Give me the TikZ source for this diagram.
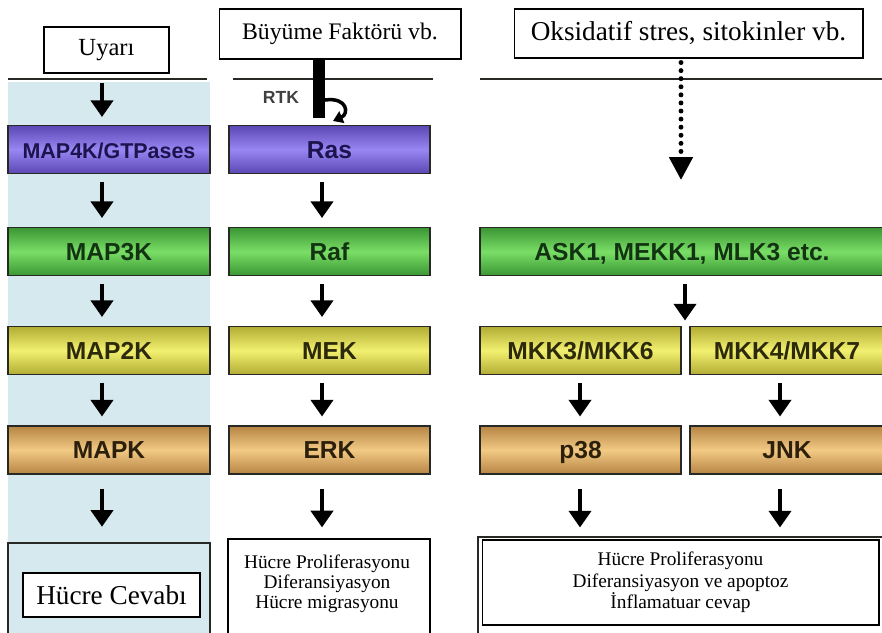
\documentclass[tikz,border=0pt]{standalone}
\usepackage{fontspec}
\setmainfont{Liberation Serif}
\setsansfont{Liberation Sans}
\usepackage{tikz}
\usetikzlibrary{arrows.meta,positioning,calc}

\definecolor{bgblue}{RGB}{214,233,239}
\definecolor{edge}{RGB}{40,40,36}
\definecolor{purpD}{RGB}{92,72,180}
\definecolor{purpL}{RGB}{152,134,242}
\definecolor{purpT}{RGB}{28,20,78}
\definecolor{greenD}{RGB}{58,150,52}
\definecolor{greenL}{RGB}{122,222,102}
\definecolor{greenT}{RGB}{18,52,18}
\definecolor{yellD}{RGB}{178,172,52}
\definecolor{yellL}{RGB}{242,240,112}
\definecolor{yellT}{RGB}{44,42,10}
\definecolor{tanD}{RGB}{182,132,68}
\definecolor{tanL}{RGB}{242,202,132}
\definecolor{tanT}{RGB}{44,32,12}

\begin{document}
\begin{tikzpicture}[x={(0.02cm,0)}, y={(0,-0.02cm)},
    kinase/.style={draw=edge, line width=1.1pt, minimum height=0.96cm, inner sep=0pt,
      text height=10pt, text depth=0pt,
      font=\sffamily\bfseries\fontsize{14}{14}\selectfont},
    purp/.style={kinase, top color=purpD, bottom color=purpD, middle color=purpL, text=purpT},
    grn/.style={kinase, top color=greenD, bottom color=greenD, middle color=greenL, text=greenT},
    yel/.style={kinase, top color=yellD, bottom color=yellD, middle color=yellL, text=yellT},
    tan/.style={kinase, top color=tanD, bottom color=tanD, middle color=tanL, text=tanT},
    txtbox/.style={draw=black, fill=white, line width=0.6pt, inner sep=0pt, align=center},
    membrane/.style={line width=1.7pt, edge},
    arr/.style={line width=2.8pt, black, -{Triangle[length=9.5pt,width=12.5pt]},
      shorten <=0.16cm, shorten >=0.17cm}]
  \useasboundingbox (0,0) rectangle (882,632);
  \clip (0,0) rectangle (882,632);

  % left column: general scheme
  \fill[bgblue] (8,82) rectangle (210,640);
  \draw[membrane] (8,79) -- (207,79);
  \node[txtbox, minimum width=2.5cm, minimum height=0.92cm, font=\fontsize{14}{14}\selectfont] (uyari) at (106.5,50) {Uyarı};
  \coordinate (c1) at (102,83);
  \node[purp, minimum width=4.04cm, font=\sffamily\bfseries\fontsize{12.2}{12}\selectfont] (map4k) at (109,149.5) {MAP4K/GTPases};
  \node[grn, minimum width=4.04cm] (map3k) at (109,251.5) {MAP3K};
  \node[yel, minimum width=4.04cm] (map2k) at (109,350.5) {MAP2K};
  \node[tan, minimum width=4.04cm] (mapk) at (109,450) {MAPK};
  \node[draw=edge, line width=1.4pt, fill=bgblue, minimum width=4.04cm, minimum height=1.94cm] (resp1) at (109,591.5) {};
  \node[txtbox, minimum width=3.54cm, minimum height=0.88cm, font=\fontsize{15.5}{15.5}\selectfont] (cevap) at (111.5,595) {Hücre Cevabı};

  \draw[arr, shorten <=0pt, shorten >=0.15cm] (c1) -- (map4k.north -| c1);
  \draw[arr] (map4k.south -| c1) -- (map3k.north -| c1);
  \draw[arr] (map3k.south -| c1) -- (map2k.north -| c1);
  \draw[arr] (map2k.south -| c1) -- (mapk.north -| c1);
  \draw[arr, shorten <=0.28cm, shorten >=0.30cm] (mapk.south -| c1) -- (resp1.north -| c1);

  % middle column: ERK pathway
  \draw[membrane] (233,79) -- (433,79);
  \fill[black] (313,59) rectangle (325,118);
  \node[txtbox, minimum width=4.84cm, minimum height=1.0cm, font=\fontsize{13.5}{13.5}\selectfont] (gf) at (340,34) {Büyüme Faktörü vb.};
  \node[font=\sffamily\bfseries\fontsize{10}{10}\selectfont, text=black!75] (rtk) at (281,97) {RTK};
  \draw[line width=2pt, -{Triangle[length=5.5pt,width=7pt]}] (325,100) .. controls (348,97) and (349,114) .. (333,121);
  \coordinate (c2) at (322,0);
  \node[purp, minimum width=4.02cm] (ras) at (329.5,149.5) {Ras};
  \node[grn, minimum width=4.02cm] (raf) at (329.5,251.5) {Raf};
  \node[yel, minimum width=4.02cm] (mek) at (329.5,350.5) {MEK};
  \node[tan, minimum width=4.02cm] (erk) at (329.5,450) {ERK};
  \node[draw=black, line width=0.7pt, fill=white, minimum width=4.04cm, minimum height=2.02cm] (resp2) at (329,589.5) {};
  \node[align=center, font=\fontsize{11}{11.4}\selectfont] (txt2) at (327,584) {Hücre Proliferasyonu\\Diferansiyasyon\\Hücre migrasyonu};

  \draw[arr] (ras.south -| c2) -- (raf.north -| c2);
  \draw[arr] (raf.south -| c2) -- (mek.north -| c2);
  \draw[arr] (mek.south -| c2) -- (erk.north -| c2);
  \draw[arr, shorten <=0.28cm, shorten >=0.22cm] (erk.south -| c2) -- (resp2.north -| c2);

  % right column: stress pathways
  \draw[membrane] (480,79) -- (882,79);
  \node[txtbox, minimum width=6.98cm, minimum height=0.98cm, font=\fontsize{15.5}{15.5}\selectfont] (stress) at (688.5,33.5) {Oksidatif stres, sitokinler vb.};
  \coordinate (c3) at (681,180);
  \draw[line width=2.8pt, line cap=round, dash pattern=on 0pt off 4.6pt, shorten <=0.08cm,
    -{Triangle[length=13pt,width=13pt,line cap=butt]}] (stress.south -| c3) -- (c3);
  \node[grn, minimum width=8.08cm] (ask) at (682,251.5) {ASK1, MEKK1, MLK3 etc.};
  \node[yel, minimum width=4.02cm] (mkk36) at (580.5,350.5) {MKK3/MKK6};
  \node[yel, minimum width=3.88cm] (mkk47) at (787,350.5) {MKK4/MKK7};
  \node[tan, minimum width=4.02cm] (p38) at (580.5,450) {p38};
  \node[tan, minimum width=3.88cm] (jnk) at (787,450) {JNK};
  \node[draw=edge, line width=1.4pt, fill=white, minimum width=8.12cm, minimum height=2.06cm] (resp3) at (681,588.5) {};
  \node[txtbox, minimum width=7.94cm, minimum height=1.7cm, font=\fontsize{11}{12.2}\selectfont] (txt3) at (680.5,582.5) {Hücre Proliferasyonu\\Diferansiyasyon ve apoptoz\\İnflamatuar cevap};

  \coordinate (c4) at (685,0);
  \coordinate (c5) at (580,0);
  \coordinate (c6) at (780,0);
  \draw[arr, shorten >=0.1cm] (ask.south -| c4) -- (mkk36.north -| c4);
  \draw[arr] (mkk36.south -| c5) -- (p38.north -| c5);
  \draw[arr] (mkk47.south -| c6) -- (jnk.north -| c6);
  \draw[arr, shorten <=0.28cm, shorten >=0.24cm] (p38.south -| c5) -- (txt3.north -| c5);
  \draw[arr, shorten <=0.28cm, shorten >=0.24cm] (jnk.south -| c6) -- (txt3.north -| c6);
\end{tikzpicture}
\end{document}
